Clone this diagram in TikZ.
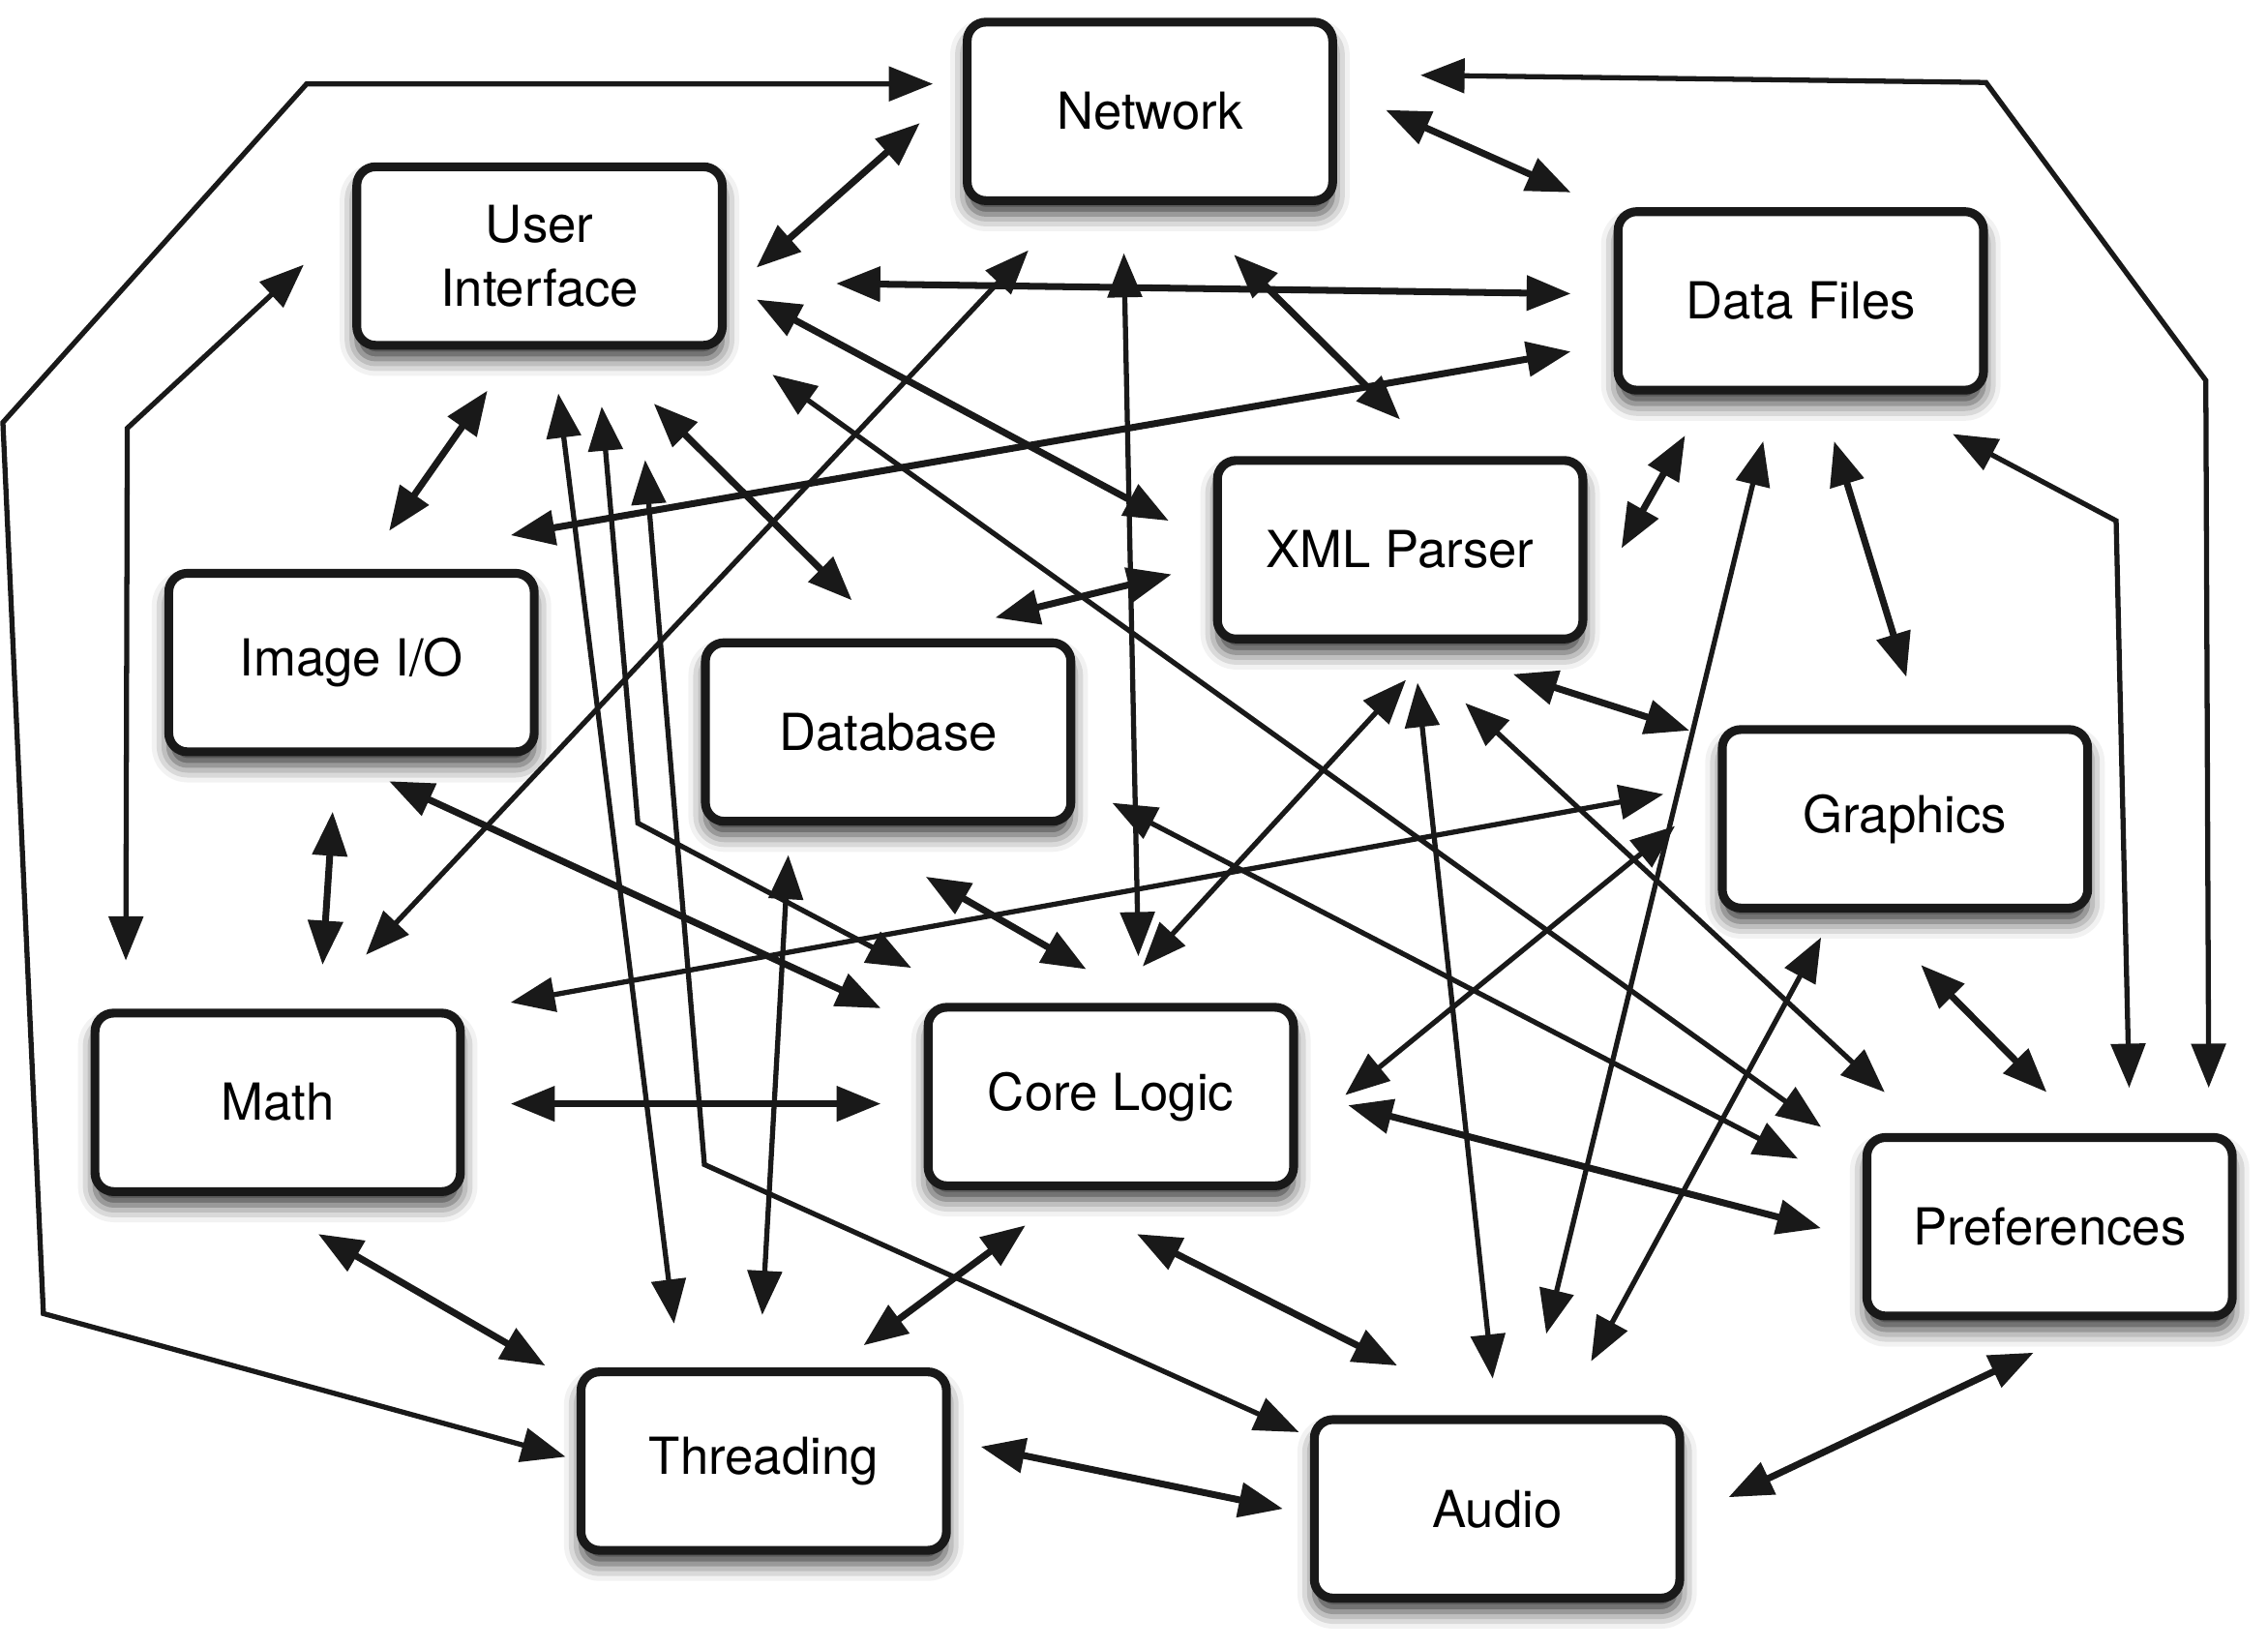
\documentclass[tikz,border=0pt]{standalone}
\usepackage{fontspec}
\setmainfont{TeX Gyre Heros}
\usetikzlibrary{arrows.meta,shadows.blur,calc}
\begin{document}
\begin{tikzpicture}[x=0.01495cm,y=-0.01495cm,
  box/.style={draw=black!90, line width=2.6pt, rounded corners=5.5pt, fill=white,
    minimum width=107.5pt, minimum height=52.5pt, inner sep=0pt, align=center,
    font=\fontsize{15}{19}\selectfont,
    blur shadow={shadow xshift=0pt, shadow yshift=-4pt, shadow blur radius=5pt, shadow opacity=80}},
  link/.style={line width=1.5pt, draw=black!90,
    {Triangle[length=13pt,width=10pt]}-{Triangle[length=13pt,width=10pt]}},
  boldlink/.style={link, line width=2pt},
]
\useasboundingbox (0,0) rectangle (1568,1139);

\node[box] (net)  at (795,77)   {Network};
\node[box] (ui)   at (373,177)  {User\\Interface};
\node[box] (df)   at (1245,208) {Data Files};
\node[box] (xml)  at (968,380)  {XML Parser};
\node[box] (img)  at (243,458)  {Image I/O};
\node[box] (db)   at (614,506)  {Database};
\node[box] (gfx)  at (1317,566) {Graphics};
\node[box] (math) at (192,762)  {Math};
\node[box] (core) at (768,758)  {Core Logic};
\node[box] (pref) at (1417,848) {Preferences};
\node[box] (thr)  at (528,1010) {Threading};
\node[box] (aud)  at (1035,1043){Audio};

% bend points
\coordinate (bl1) at (212,58);
\coordinate (bl2) at (2,292);
\coordinate (bl3) at (30,908);
\coordinate (bi1) at (88,296);
\coordinate (br1) at (1373,57);
\coordinate (br2) at (1525,263);
\coordinate (bri) at (1463,360);
\coordinate (bu1) at (441,569);
\coordinate (bu2) at (487,805);

% long outer paths
\draw[link] ($(net)+(-150,-19)$) -- (bl1) -- (bl2) -- (bl3) -- ($(thr)+(-137,-3)$);
\draw[link] ($(ui)+(-163,6)$) -- (bi1) -- ($(math)+(-105,-98)$);
\draw[link] ($(net)+(187,-25)$) -- (br1) -- (br2) -- ($(pref)+(110,-96)$);
\draw[link] ($(df)+(105,92)$) -- (bri) -- ($(pref)+(55,-96)$);

% network
\draw[boldlink] ($(ui)+(150,8)$) -- ($(net)+(-159,8)$);
\draw[boldlink] ($(net)+(163,-1)$) -- ($(df)+(-159,-75)$);
\draw[boldlink] ($(net)+(58,99)$) -- ($(xml)+(0,-90)$);
\draw[link] ($(net)+(-18,98)$) -- ($(core)+(19,-97)$);
\draw[link] ($(net)+(-84,96)$) -- ($(math)+(61,-102)$);

% user interface
\draw[boldlink] ($(ui)+(205,19)$) -- ($(df)+(-159,-5)$);
\draw[boldlink] ($(df)+(-159,35)$) -- ($(img)+(110,-88)$);
\draw[boldlink] ($(ui)+(150,30)$) -- ($(xml)+(-160,-20)$);
\draw[link] ($(ui)+(161,82)$) -- ($(pref)+(-158,-69)$);
\draw[boldlink] ($(ui)+(79,102)$) -- ($(db)+(-25,-91)$);
\draw[boldlink] ($(ui)+(-36,93)$) -- ($(img)+(26,-91)$);
\draw[link] ($(ui)+(13,95)$) -- ($(thr)+(-62,-95)$);
\draw[link] ($(ui)+(43,104)$) -- (bu1) -- ($(core)+(-138,-89)$);
\draw[link] ($(ui)+(73,141)$) -- (bu2) -- ($(aud)+(-137,-53)$);

% database
\draw[link] ($(db)+(-69,85)$) -- ($(thr)+(-1,-101)$);
\draw[boldlink] ($(db)+(26,100)$) -- ($(core)+(-17,-88)$);
\draw[link] ($(db)+(155,49)$) -- ($(pref)+(-174,-47)$);

% xml parser
\draw[boldlink] ($(xml)+(-158,17)$) -- ($(db)+(74,-79)$);
\draw[boldlink] ($(xml)+(153,-1)$) -- ($(df)+(-80,93)$);
\draw[boldlink] ($(xml)+(78,86)$) -- ($(gfx)+(-149,-61)$);
\draw[link] ($(xml)+(4,90)$) -- ($(core)+(22,-90)$);
\draw[link] ($(xml)+(12,92)$) -- ($(aud)+(-3,-90)$);
\draw[link] ($(xml)+(45,106)$) -- ($(pref)+(-114,-93)$);

% data files
\draw[link] ($(df)+(-26,97)$) -- ($(aud)+(34,-121)$);
\draw[boldlink] ($(df)+(23,97)$) -- ($(gfx)+(1,-98)$);

% graphics
\draw[link] ($(gfx)+(-167,-17)$) -- ($(math)+(161,-69)$);
\draw[link] ($(gfx)+(-159,5)$) -- ($(core)+(162,-1)$);
\draw[link] ($(gfx)+(-58,82)$) -- ($(aud)+(65,-102)$);
\draw[boldlink] ($(gfx)+(11,101)$) -- ($(pref)+(-2,-93)$);

% lower part
\draw[boldlink] ($(math)+(161,1)$) -- ($(core)+(-159,5)$);
\draw[boldlink] ($(img)+(-13,103)$) -- ($(math)+(31,-95)$);
\draw[boldlink] ($(img)+(26,82)$) -- ($(core)+(-159,-61)$);
\draw[boldlink] ($(math)+(28,91)$) -- ($(thr)+(-151,-66)$);
\draw[boldlink] ($(core)+(-59,89)$) -- ($(thr)+(69,-80)$);
\draw[boldlink] ($(core)+(18,95)$) -- ($(aud)+(-69,-99)$);
\draw[boldlink] ($(thr)+(150,-10)$) -- ($(aud)+(-148,0)$);
\draw[boldlink] ($(aud)+(160,-8)$) -- ($(pref)+(-11,87)$);
\draw[boldlink] ($(core)+(164,6)$) -- ($(pref)+(-158,1)$);
\end{tikzpicture}
\end{document}
